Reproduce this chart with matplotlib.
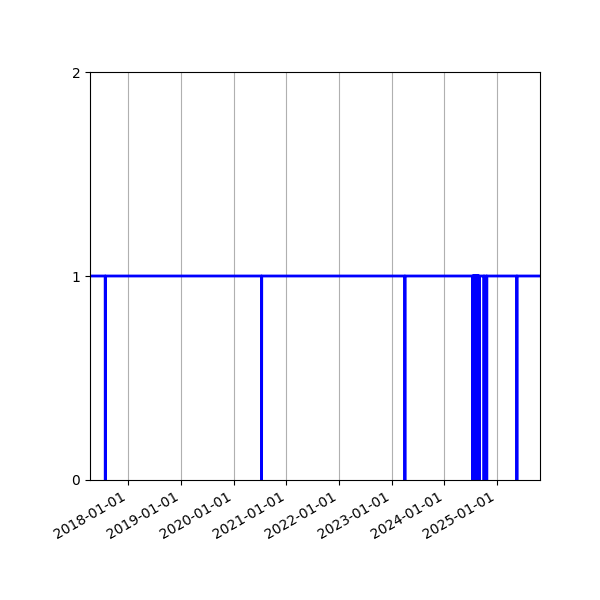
import numpy as np
import pandas as pd
import matplotlib
matplotlib.use("Agg")
import matplotlib.pyplot as plt
import matplotlib.dates as mdates

# periodo observado y días en que el valor cae a 0
inicio = "2017-04-11"
fin = "2025-10-24"
caidas = [
    "2017-07-26",
    "2020-07-13",
    "2023-04-02",
    "2024-07-14", "2024-07-17", "2024-07-20", "2024-07-23", "2024-07-26",
    "2024-07-29", "2024-08-01", "2024-08-04", "2024-08-07", "2024-08-10",
    "2024-08-13", "2024-08-16", "2024-08-19", "2024-08-22", "2024-08-25",
    "2024-08-28",
    "2024-10-01", "2024-10-20",
    "2025-05-17",
]
y_ticks = [0, 1, 2]

fechas = pd.date_range(inicio, fin, freq="D")
serie = pd.Series(1, index=fechas)
serie[pd.to_datetime(caidas)] = 0

fig, ax = plt.subplots(figsize=(6, 6), dpi=100)
fig.subplots_adjust(left=0.15)
ax.plot(serie.index, serie.values, color="blue", linewidth=2)
ax.set_xlim(fechas[0], fechas[-1])
ax.set_ylim(0, 2)
ax.set_yticks(y_ticks)
ax.xaxis.set_major_locator(mdates.YearLocator())
ax.xaxis.set_major_formatter(mdates.DateFormatter("%Y-%m-%d"))
ax.grid(axis="x")
fig.autofmt_xdate()
plt.savefig("out.png", dpi=100)
